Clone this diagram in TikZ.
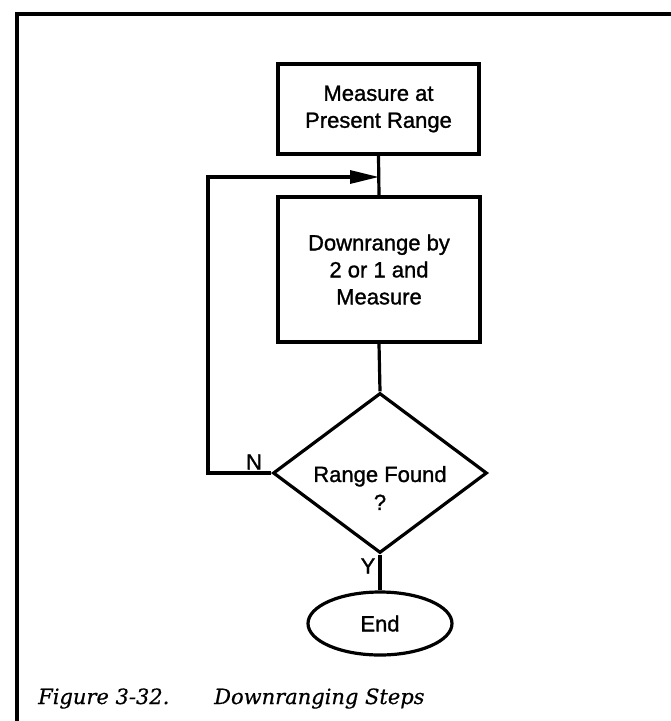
\documentclass[tikz,border=0pt]{standalone}
\usepackage{fontspec}
\newfontfamily\flowfont[FakeBold=1.2]{Liberation Sans}
\newfontfamily\captfont[FakeBold=0.6]{DejaVu Serif}
\usetikzlibrary{shapes.geometric,arrows.meta}
\begin{document}
\begin{tikzpicture}[x=1pt,y=-1pt,
  base/.style={draw=black, line width=3.2pt, inner sep=0pt, font=\flowfont\fontsize{22}{27}\selectfont, align=center},
  procbox/.style={base, rectangle},
  decision/.style={base, diamond},
  terminal/.style={base, ellipse},
  conn/.style={line width=3.2pt, line join=miter},
  lbl/.style={font=\flowfont\fontsize{22}{28}\selectfont, inner sep=0pt, align=center},
  capt/.style={font=\captfont\itshape\fontsize{21}{26}\selectfont, inner sep=0pt, anchor=base west},
]
\useasboundingbox (0,0) rectangle (671,721);
% frame
\coordinate (fbl) at (17,721);
\coordinate (ftl) at (17,14);
\coordinate (ftr) at (671,14);
\draw[line width=4pt] (fbl) -- (ftl) -- (ftr);
% nodes
\node[procbox, minimum width=201pt, minimum height=90pt] (measure) at (378.5,109) {Measure at\\Present Range};
\node[procbox, minimum width=202pt, minimum height=145pt] (down) at (379,269.5) {Downrange by\\2 or 1 and\\Measure};
\node[decision, minimum width=214pt, minimum height=160pt] (found) at (380,473) {};
\node[lbl] (foundtxt) at (380,488) {Range Found\\?};
\node[terminal, minimum width=144pt, minimum height=63pt] (end) at (380,623.5) {End};
\node[lbl] (nlab) at (254,462) {N};
\node[lbl] (ylab) at (368,566) {Y};
% connectors
\coordinate (loopcorner) at (208,473);
\coordinate (loopin) at (379,177);
\draw[conn] (measure.south) -- (down.north);
\draw[conn, -{Triangle[length=29pt,width=13pt]}] (found.west) -- (loopcorner) |- (loopin);
\draw[conn] (down.south) -- (found.north);
\draw[conn] (found.south) -- (end.north);
% caption
\node[capt] (figno) at (38,704) {Figure 3-32.};
\node[capt] (figtitle) at (214,704) {Downranging Steps};
\end{tikzpicture}
\end{document}
